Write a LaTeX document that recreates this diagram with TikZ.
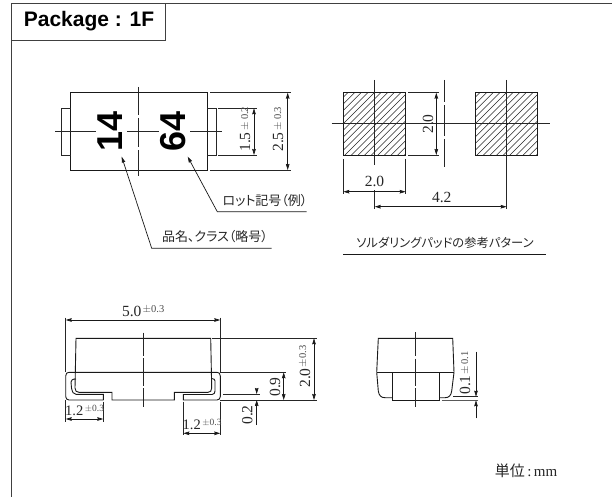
\documentclass[tikz,border=0pt]{standalone}
\usepackage{fontspec}
\setmainfont{Liberation Serif}
\newfontfamily\cjk[RawFeature=+palt]{Noto Sans CJK JP}
\newfontfamily\hel{Liberation Sans}
\usetikzlibrary{arrows.meta}
\tikzset{
  x=1pt,y=-1pt,
  ln/.style={line width=0.9pt,draw=black!90},
  thin line/.style={line width=0.7pt,draw=black!85},
  tiphead/.tip={Stealth[length=6pt,width=3.6pt,inset=0.6pt]},
  dimline/.style={line width=0.7pt,draw=black!90,tiphead-tiphead},
  tipline/.style={line width=0.7pt,draw=black!90,-tiphead},
  num/.style={inner sep=0pt,font=\fontsize{15.5}{16}\selectfont,text=black!85},
  numsmall/.style={inner sep=0pt,font=\fontsize{14.5}{15}\selectfont,text=black!85},
  tol/.style={inner sep=0pt,font=\fontsize{10.5}{11}\selectfont,text=black!70},
  tolsmall/.style={inner sep=0pt,font=\fontsize{9.5}{10}\selectfont,text=black!70},
  jp/.style={inner sep=0pt,font=\cjk\fontsize{13}{14}\selectfont,text=black!85},
  mark14/.style={inner sep=0pt,rotate=90,font=\hel\bfseries\fontsize{36}{37}\selectfont},
  hatch/.style={line width=0.55pt,draw=black!85},
}
\begin{document}
\begin{tikzpicture}
\useasboundingbox (0,0) rectangle (612,497);
% frame
\draw[line width=0.8pt,draw=black!75] (11.5,497) -- (11.5,3.5) -- (612,3.5);
\draw[line width=0.8pt,draw=black!75] (11.5,40) -- (165,40) -- (165,3.5);
\node[inner sep=0pt,font=\hel\bfseries\fontsize{21}{22}\selectfont] (title) at (89,21.5) {Package : 1F};

% --- top view
\draw[ln] (70.5,92.7) rectangle (207,170);
\draw[thin line] (70.5,108.3) -- (61,108.3) -- (61,155) -- (70.5,155);
\draw[thin line] (207,108.3) -- (216,108.3) -- (216,155) -- (207,155);
\foreach \a/\b in {55/96,127/159,190/222} \draw[thin line] (\a,131.3) -- (\b,131.3);
\foreach \a/\b in {87/115,118/147,150/176} \draw[thin line] (138.7,\a) -- (138.7,\b);
\node[mark14] (m14) at (110,131.5) {14};
\node[mark14] (m64) at (173,131.5) {64};
% dims
\draw[thin line] (210,92.7) -- (290.7,92.7);
\draw[thin line] (210,170) -- (290.7,170);
\draw[thin line] (218,108.3) -- (256.7,108.3);
\draw[thin line] (218,155) -- (256.7,155);
\coordinate (a1) at (287.7,92.7); \coordinate (a2) at (287.7,170);
\coordinate (b1) at (254,108.3); \coordinate (b2) at (254,155);
\draw[dimline] (a1) -- (a2);
\draw[dimline] (b1) -- (b2);
\node[num,rotate=90] (d25) at (278,142) {2.5};
\node[tol,rotate=90] (d25t) at (278,118.5) {$\pm$\,0.3};
\node[num,rotate=90] (d15) at (245,142) {1.5};
\node[tol,rotate=90] (d15t) at (245,118.5) {$\pm$\,0.2};
% leaders
\coordinate (l1a) at (121.7,156.7); \coordinate (l1b) at (151.7,248.3); \coordinate (l1c) at (271.7,248.3);
\coordinate (l2a) at (187.7,156.7); \coordinate (l2b) at (217.3,211.7); \coordinate (l2c) at (306.7,211.7);
\draw[tipline] (l1c) -- (l1b) -- (l1a);
\draw[tipline] (l2c) -- (l2b) -- (l2a);
\node[jp] (t1) at (215,237) {品名、クラス（略号）};
\node[jp] (t2) at (265,200.7) {ロット記号（例）};

% --- pads
\begin{scope}
\clip (343.3,92.7) rectangle (405.7,155) (475,92.7) rectangle (537.7,155);
\foreach \i in {0,...,40} \draw[hatch] (343+\i*6.6-65,156) -- (343+\i*6.6,91);
\end{scope}
\draw[ln] (343.3,92.7) rectangle (405.7,155);
\draw[ln] (475,92.7) rectangle (537.7,155);
\draw[thin line] (331.7,123.7) -- (550,123.7);
\draw[thin line] (374.7,80) -- (374.7,165);
\draw[thin line] (374.7,190) -- (374.7,208.5);
\draw[thin line] (506.7,80) -- (506.7,208.5);
\foreach \a/\b in {80/102,105/136,139/166.7} \draw[thin line] (444,\a) -- (444,\b);
\draw[thin line] (408,92.7) -- (439,92.7);
\draw[thin line] (408,155) -- (439,155);
\draw[thin line] (343.3,159) -- (343.3,194);
\draw[thin line] (405.7,159) -- (405.7,194);
\coordinate (c1) at (436.3,92.7); \coordinate (c2) at (436.3,155);
\coordinate (e1) at (343.3,191.7); \coordinate (e2) at (405.7,191.7);
\coordinate (f1) at (374.7,206.7); \coordinate (f2) at (506.7,206.7);
\draw[dimline] (c1) -- (c2);
\draw[dimline] (e1) -- (e2);
\draw[dimline] (f1) -- (f2);
\node[num,rotate=90] (p20v) at (428,124) {2.0};
\node[num] (p20h) at (374.5,181.5) {2.0};
\node[num] (p42) at (441.7,197.5) {4.2};
\node[jp,font=\cjk\fontsize{12.3}{13}\selectfont] (cap) at (445,243) {ソルダリングパッドの参考パターン};
\coordinate (u1) at (343,254); \coordinate (u2) at (546,254);
\draw[ln] (u1) -- (u2);

% --- front view
\draw[ln] (75,388) .. controls (75.5,391) and (76,392.3) .. (79,392.3) -- (112,392.3) -- (112,400) -- (174.3,400) -- (174.3,392.3) -- (208,392.3) .. controls (210.5,392.3) and (211.5,391) .. (211.7,388) -- (210.7,338.3) -- (76,338.3) -- cycle;
\draw[ln] (103.3,400) -- (69,400) .. controls (67,400) and (65.7,398.5) .. (65.7,396.5) -- (65.7,376) .. controls (65.7,373.5) and (67,372.3) .. (69,372.3) -- (217,372.3) .. controls (219,372.3) and (220.3,373.5) .. (220.3,376) -- (220.3,396.5) .. controls (220.3,398.5) and (219,400) .. (217,400) -- (183.3,400) -- (183.3,394.5) -- (212,394.5) .. controls (214,394.5) and (215,393) .. (215,391) -- (215,381) .. controls (215,379.5) and (214,378.7) .. (211.7,378.5);
\draw[ln] (103.3,400) -- (103.3,394.3) -- (76,394.3) .. controls (73,394.3) and (72.5,392) .. (71.5,388) -- (71,382) .. controls (71,380) and (72.5,379) .. (76,379);
\foreach \a/\b in {332.7/355.5,358/385.5,388/406.7} \draw[thin line] (143.3,\a) -- (143.3,\b);
% dims
\draw[thin line] (65.7,317.7) -- (65.7,372.3);
\draw[thin line] (220.3,317.7) -- (220.3,372.3);
\draw[thin line] (220.3,401.7) -- (220.3,435);
\draw[thin line] (183.3,401.7) -- (183.3,435);
\draw[thin line] (65.7,400) -- (65.7,421.7);
\draw[thin line] (103.3,401.7) -- (103.3,421.7);
\draw[thin line] (212,338.3) -- (316.7,338.3);
\draw[thin line] (220.3,372.3) -- (285.7,372.3);
\draw[thin line] (220.3,400) -- (316.7,400);
\draw[thin line] (223.3,394) -- (260,394);
\coordinate (g1) at (65.7,320); \coordinate (g2) at (220.3,320);
\coordinate (h1) at (314,338.3); \coordinate (h2) at (314,400);
\coordinate (i1) at (283.7,372.3); \coordinate (i2) at (283.7,400);
\coordinate (j1) at (65.7,419); \coordinate (j2) at (103.3,419);
\coordinate (k1) at (183.3,433.3); \coordinate (k2) at (220.3,433.3);
\coordinate (n1) at (256.7,388.5); \coordinate (n2) at (256.7,394);
\coordinate (n3) at (256.7,425); \coordinate (n4) at (256.7,400);
\draw[dimline] (g1) -- (g2);
\draw[dimline] (h1) -- (h2);
\draw[dimline] (i1) -- (i2);
\draw[dimline] (j1) -- (j2);
\draw[dimline] (k1) -- (k2);
\draw[tipline] (n1) -- (n2);
\draw[tipline] (n3) -- (n4);
\node[num] (v50) at (131.7,311.5) {5.0};
\node[tol] (v50t) at (153.5,309.3) {$\pm$0.3};
\node[num,rotate=90] (v20) at (305,378) {2.0};
\node[tol,rotate=90] (v20t) at (303,356.5) {$\pm$0.3};
\node[num,rotate=90] (v09) at (275,387) {0.9};
\node[num,rotate=90] (v02) at (247.3,415) {0.2};
\node[numsmall] (v12a) at (74.3,410.5) {1.2};
\node[tolsmall] (v12at) at (94.5,408.5) {$\pm$0.3};
\node[numsmall] (v12b) at (191.7,424.5) {1.2};
\node[tolsmall] (v12bt) at (212,422.7) {$\pm$0.3};

% --- side view
\draw[ln] (376.7,372.3) -- (378.3,338.3) -- (452.7,338.3) -- (454,372.3);
\draw[ln] (376.7,372.3) -- (454,372.3);
\draw[ln] (376.7,372.3) -- (378.3,391) .. controls (379,395.5) and (381,397.7) .. (385,397.7) -- (392.3,397.7);
\draw[ln] (454,372.3) -- (451.7,391) .. controls (451,395.5) and (449,397.7) .. (445,397.7) -- (439,397.7);
\draw[ln] (392.3,372.3) rectangle (439,400.3);
\foreach \a/\b in {332.3/356,358.5/385.5,388/406.7} \draw[thin line] (415.7,\a) -- (415.7,\b);
\draw[thin line] (453,396.7) -- (478.3,396.7);
\draw[line width=1pt,draw=black!65] (441.7,400.3) -- (478.3,400.3);
\coordinate (q1) at (476,351.7); \coordinate (q2) at (476,396.7);
\coordinate (q3) at (476,418.3); \coordinate (q4) at (476,400.3);
\draw[tipline] (q1) -- (q2);
\draw[tipline] (q3) -- (q4);
\node[num,rotate=90] (s01) at (465,385) {0.1};
\node[tol,rotate=90] (s01t) at (465,363) {$\pm$\,0.1};

\node[inner sep=0pt,text=black!85] (unit) at (526,471) {\cjk\fontsize{15}{16}\selectfont 単位\rmfamily\fontsize{15}{16}\selectfont\,:\,mm};
\end{tikzpicture}
\end{document}
